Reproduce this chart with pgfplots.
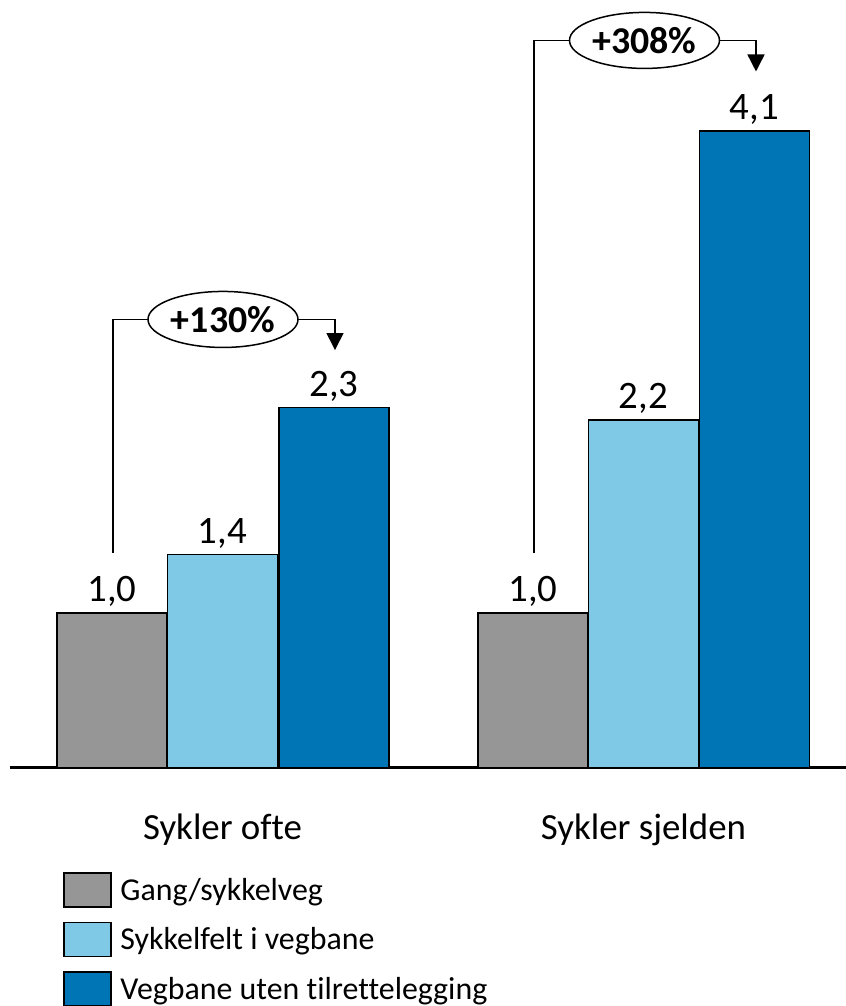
\documentclass[border=0pt]{standalone}
\usepackage{fontspec}
\setmainfont[Ligatures=NoCommon]{Carlito}
\usepackage{pgfplots}
\pgfplotsset{compat=1.18}
\usetikzlibrary{shapes.geometric,arrows.meta}
\definecolor{cgray}{HTML}{969696}
\definecolor{clight}{HTML}{7FC8E6}
\definecolor{cdark}{HTML}{0075B6}
\pgfplotsset{myleg/.style={legend image code/.code={\draw[##1, line width=1.5bp] (0bp,-17bp) rectangle (47bp,17bp);}}}
\begin{document}
\begin{tikzpicture}
\begin{axis}[
 at={(10bp,238.5bp)}, anchor=south west,
 scale only axis, width=836bp, height=767.5bp,
 xmin=10, xmax=846, ymin=0, ymax=4.9676,
 axis x line*=bottom, axis y line=none,
 x axis line style={line width=2bp, -},
 xtick={222.5,643.5}, xticklabels={Sykler ofte,Sykler sjelden},
 major tick length=0pt,
 xticklabel style={font=\fontsize{37}{44}\selectfont, anchor=base, yshift=-71.5bp},
 ybar, bar width=110, bar shift=0pt,
 nodes near coords, point meta=explicit symbolic,
 every node near coord/.append style={font=\fontsize{39}{46}\selectfont, anchor=base, yshift=11bp, inner sep=0pt},
 legend style={at={(axis cs:63,-0.677)}, anchor=north west, draw=none, fill=none, inner sep=0pt, outer sep=0pt, row sep=14bp, font=\fontsize{32}{38}\selectfont, /tikz/every odd column/.append style={column sep=7bp}},
 legend cell align=left,
 clip=false,
]
\addplot[fill=cgray, draw=black, line width=1.5bp, myleg] coordinates {(112,1.0) [1,0] (533,1.0) [1,0]};
\addplot[fill=clight, draw=black, line width=1.5bp, myleg] coordinates {(222.5,1.38) [1,4] (643.5,2.25) [2,2]};
\addplot[fill=cdark, draw=black, line width=1.5bp, myleg] coordinates {(334,2.33) [2,3] (754.5,4.12) [4,1]};
\legend{Gang/sykkelveg, Sykkelfelt i vegbane, Vegbane uten tilrettelegging}
\draw[line width=1.5bp, -{Triangle[width=17bp,length=17bp]}] (axis cs:113,1.388) |- (axis cs:335,2.900) -- (axis cs:335,2.702);
\draw[line width=1.5bp, -{Triangle[width=17bp,length=17bp]}] (axis cs:534,1.388) |- (axis cs:756,4.706) -- (axis cs:756,4.505);
\node[draw, ellipse, fill=white, line width=1.5bp, minimum width=150bp, minimum height=56bp, inner sep=0pt, font=\fontsize{38}{45}\selectfont\bfseries] at (axis cs:223,2.900) {+130\%};
\node[draw, ellipse, fill=white, line width=1.5bp, minimum width=150bp, minimum height=56bp, inner sep=0pt, font=\fontsize{38}{45}\selectfont\bfseries] at (axis cs:644.5,4.706) {+308\%};
\end{axis}
\pgfresetboundingbox
\path[use as bounding box] (0,0) rectangle (846bp,1006bp);
\end{tikzpicture}
\end{document}
